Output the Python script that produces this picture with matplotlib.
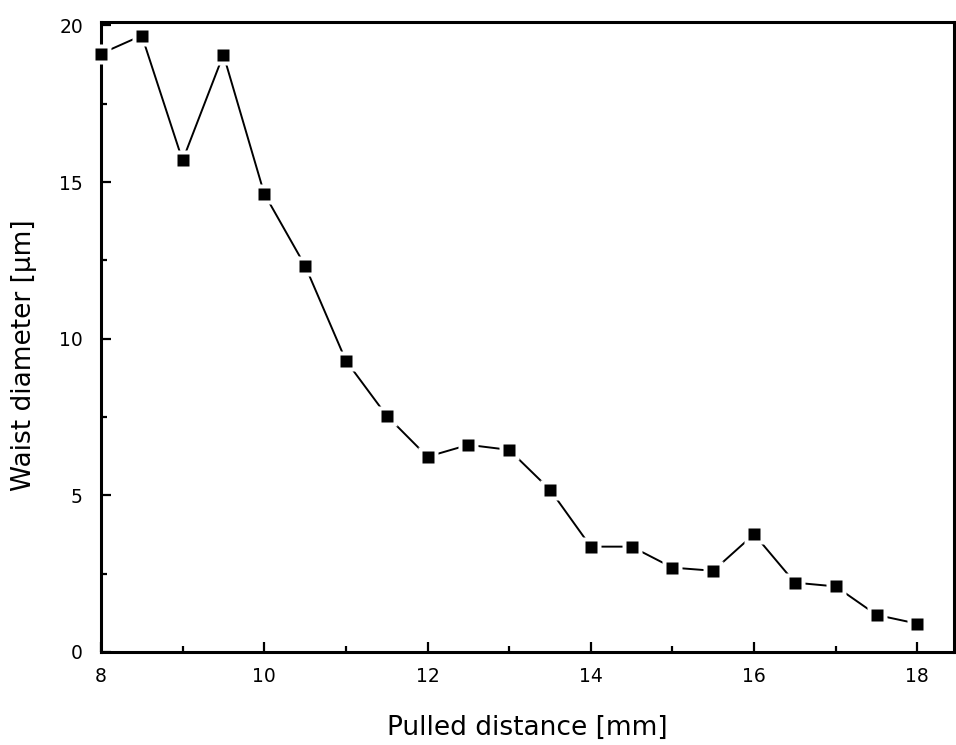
import numpy as np
import matplotlib.pyplot as plt
from matplotlib import ticker

distance = [8, 8.5, 9, 9.5, 10, 10.5, 11, 11.5, 12, 12.5, 13, 13.5, 14, 14.5,
            15, 15.5, 16, 16.5, 17, 17.5, 18]
diameter = [19.1, 19.68, 15.69, 19.07, 14.63, 12.33, 9.3, 7.54, 6.23, 6.61,
            6.45, 5.18, 3.36, 3.36, 2.69, 2.59, 3.76, 2.21, 2.09, 1.18, 0.9]

plt.rcParams['font.family'] = 'DejaVu Sans'

fig = plt.figure(figsize=(9.56, 7.45), dpi=100)
ax = fig.add_axes([0.1056, 0.125, 0.8924, 0.845])

# line, then white squares to leave a gap, then black squares
ax.plot(distance, diameter, color='black', lw=1.4, zorder=2)
ax.plot(distance, diameter, ls='none', marker='s', ms=15, mfc='white', mec='none', zorder=3, clip_on=False)
ax.plot(distance, diameter, ls='none', marker='s', ms=9, mfc='black', mec='none', zorder=4, clip_on=False)

ax.set_xlim(8, 18.45)
ax.set_ylim(0, 20.1)
ax.xaxis.set_major_locator(ticker.MultipleLocator(2))
ax.xaxis.set_minor_locator(ticker.MultipleLocator(1))
ax.yaxis.set_major_locator(ticker.MultipleLocator(5))
ax.yaxis.set_minor_locator(ticker.MultipleLocator(2.5))
ax.tick_params(which='both', direction='in', top=False, right=False, width=1.6, labelsize=13.5)
ax.tick_params(which='major', length=7.5)
ax.tick_params(which='minor', length=4)
ax.tick_params(axis='x', pad=11)
ax.tick_params(axis='y', pad=13)
for s in ax.spines.values():
    s.set_linewidth(2.2)

ax.set_xlabel('Pulled distance [mm]', fontsize=19)
ax.set_ylabel('Waist diameter [µm]', fontsize=19)
ax.xaxis.set_label_coords(0.5, -0.1)
ax.yaxis.set_label_coords(-0.075, 0.471)

plt.savefig('out.png', dpi=100)
